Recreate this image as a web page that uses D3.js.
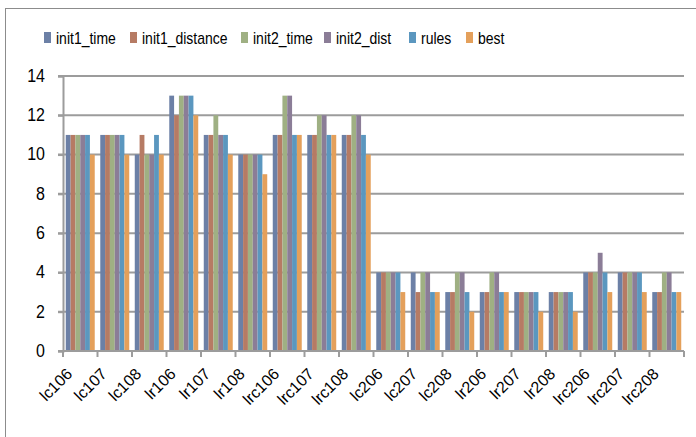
<!DOCTYPE html>
<html>
<head>
<meta charset="utf-8">
<script src="https://cdn.jsdelivr.net/npm/d3@7"></script>
<style>
  html, body { margin: 0; padding: 0; background: #fff; }
  svg { display: block; }
  text { font-family: "Liberation Sans", Arial, sans-serif; fill: #000; }
</style>
</head>
<body>
<svg id="chart" width="696" height="437"></svg>
<script>
// Instances on the x axis
const categories = ["lc106", "lc107", "lc108", "lr106", "lr107", "lr108",
  "lrc106", "lrc107", "lrc108", "lc206", "lc207", "lc208",
  "lr206", "lr207", "lr208", "lrc206", "lrc207", "lrc208"];

// Series names (legend order)
const seriesNames = ["init1_time", "init1_distance", "init2_time", "init2_dist", "rules", "best"];

// Values per series, one per instance
const init1_time     = [11, 11, 10, 13, 11, 10, 11, 11, 11, 4, 4, 3, 3, 3, 3, 4, 4, 3];
const init1_distance = [11, 11, 11, 12, 11, 10, 11, 11, 11, 4, 3, 3, 3, 3, 3, 4, 4, 3];
const init2_time     = [11, 11, 10, 13, 12, 10, 13, 12, 12, 4, 4, 4, 4, 3, 3, 4, 4, 4];
const init2_dist     = [11, 11, 10, 13, 11, 10, 13, 12, 12, 4, 4, 4, 4, 3, 3, 5, 4, 4];
const rules          = [11, 11, 11, 13, 11, 10, 11, 11, 11, 4, 3, 3, 3, 3, 3, 4, 4, 3];
const best           = [10, 10, 10, 12, 10,  9, 11, 11, 10, 3, 3, 2, 3, 2, 2, 3, 3, 3];

const yTicks = [0, 2, 4, 6, 8, 10, 12, 14];

const colors = ["#6c80a6", "#b67b64", "#9fb083", "#8b7d97", "#5b97bf", "#e4a05b"];
const seriesValues = [init1_time, init1_distance, init2_time, init2_dist, rules, best];

const svg = d3.select("#chart");

// chart frame
svg.append("rect")
  .attr("x", 5.5).attr("y", 8.5)
  .attr("width", 720).attr("height", 460)
  .attr("fill", "none").attr("stroke", "#8c8c8c").attr("stroke-width", 1);

const plot = { left: 63, right: 684, top: 76, bottom: 351 };

const x = d3.scaleBand()
  .domain(categories)
  .range([plot.left, plot.right])
  .paddingInner(0.16)
  .paddingOuter(0.08);

const xs = d3.scaleBand()
  .domain(seriesNames)
  .range([0, x.bandwidth()]);

const y = d3.scaleLinear()
  .domain([0, 14])
  .range([plot.bottom, plot.top]);

const gridColor = "#9c9c9c";

// horizontal gridlines
svg.append("g")
  .selectAll("line")
  .data(yTicks.filter(d => d > 0))
  .join("line")
  .attr("x1", plot.left - 5).attr("x2", plot.right)
  .attr("y1", d => y(d)).attr("y2", d => y(d))
  .attr("stroke", gridColor).attr("stroke-width", 2);

// y axis
const yAxis = svg.append("g")
  .attr("transform", `translate(${plot.left},0)`)
  .call(d3.axisLeft(y).tickValues(yTicks).tickSize(5).tickPadding(13).tickFormat(d3.format("d")));
yAxis.select(".domain").attr("stroke", gridColor).attr("stroke-width", 2);
yAxis.selectAll(".tick line").attr("stroke", gridColor).attr("stroke-width", 2);
yAxis.selectAll(".tick text")
  .attr("font-size", 16)
  .attr("font-family", "Liberation Sans, Arial, sans-serif")
  .attr("fill", "#000")
  .attr("transform", "scale(1,1.12)")
  .attr("dy", "0.3em");

// bars
const groups = svg.append("g")
  .selectAll("g")
  .data(categories)
  .join("g")
  .attr("transform", d => `translate(${x(d)},0)`);

groups.selectAll("rect")
  .data((c, i) => seriesNames.map((s, k) => ({ s, k, v: seriesValues[k][i] })))
  .join("rect")
  .attr("x", d => xs(d.s))
  .attr("width", xs.bandwidth())
  .attr("y", d => y(d.v))
  .attr("height", d => y(0) - y(d.v))
  .attr("fill", d => colors[d.k]);

// x axis line and boundary ticks
const step = x.step();
const boundaries = categories.map(c => x(c) - (step - x.bandwidth()) / 2);
boundaries.push(plot.right);
svg.append("line")
  .attr("x1", plot.left - 5).attr("x2", plot.right)
  .attr("y1", y(0)).attr("y2", y(0))
  .attr("stroke", gridColor).attr("stroke-width", 2);
svg.append("g")
  .selectAll("line")
  .data(boundaries)
  .join("line")
  .attr("x1", d => d).attr("x2", d => d)
  .attr("y1", y(0)).attr("y2", y(0) + 6)
  .attr("stroke", gridColor).attr("stroke-width", 2);

// rotated category labels
svg.append("g")
  .selectAll("text")
  .data(categories)
  .join("text")
  .attr("transform", d => `translate(${x(d) + x.bandwidth() / 2 - 7},${y(0) + 24}) rotate(-45)`)
  .attr("text-anchor", "end")
  .attr("font-size", 16)
  .text(d => d);

// legend
const legendItems = [
  { name: "init1_time", x: 44 },
  { name: "init1_distance", x: 130 },
  { name: "init2_time", x: 241 },
  { name: "init2_dist", x: 324 },
  { name: "rules", x: 409 },
  { name: "best", x: 466 }
];
const legend = svg.append("g");
legendItems.forEach((it, i) => {
  legend.append("rect")
    .attr("x", it.x).attr("y", 32)
    .attr("width", 7).attr("height", 11)
    .attr("fill", colors[i]);
  legend.append("text")
    .attr("transform", `translate(${it.x + 12},44) scale(1,1.2)`)
    .attr("font-size", 14)
    .text(it.name);
});
</script>
</body>
</html>
